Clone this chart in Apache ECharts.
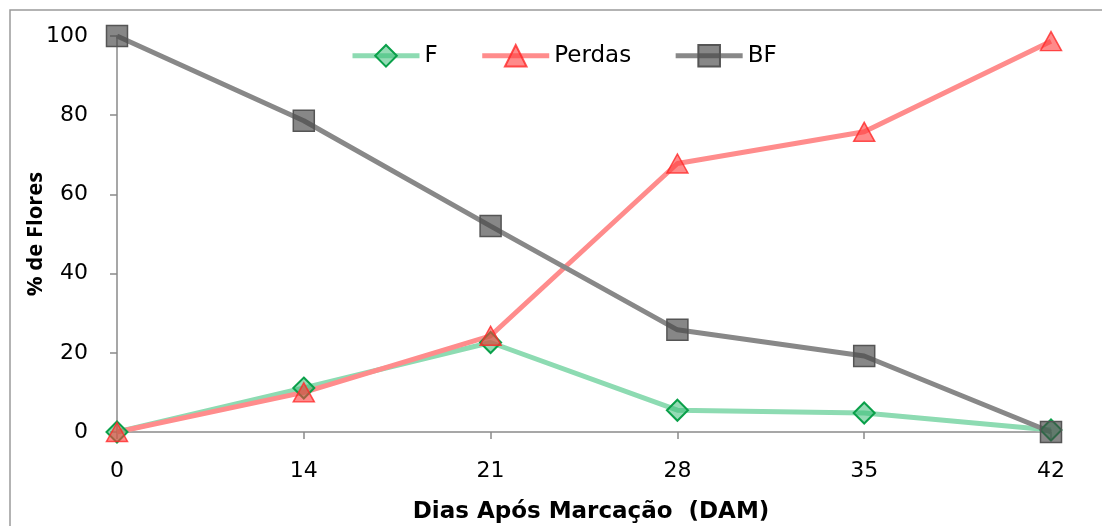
<!DOCTYPE html>
<html>
<head>
<meta charset="utf-8">
<script src="https://cdn.jsdelivr.net/npm/echarts@6/dist/echarts.min.js"></script>
<style>
  html, body { margin: 0; padding: 0; background: #fff; }
  #chart { width: 1102px; height: 526px; }
</style>
</head>
<body>
<div id="chart"></div>
<script>
// Days after marking (DAM)
const dias = ['0', '14', '21', '28', '35', '42'];
// Percentage of flowers per group
const serieF = [0, 11.1, 22.6, 5.5, 4.8, 0.5];
const seriePerdas = [0, 10, 24.3, 67.8, 75.8, 98.7];
const serieBF = [100, 78.6, 52, 25.8, 19.2, 0];
const yTicks = { min: 0, max: 100, interval: 20 };

const chart = echarts.init(document.getElementById('chart'), null, { renderer: 'canvas' });

const tickFont = { fontFamily: 'DejaVu Sans', fontSize: 22, color: '#000' };
const axisGray = '#8a8a8a';

chart.setOption({
  animation: false,
  backgroundColor: '#fff',
  graphic: [{
    type: 'rect',
    shape: { x: 10, y: 10, width: 1110, height: 540 },
    style: { fill: 'none', stroke: '#9a9a9a', lineWidth: 1.5 },
    silent: true
  }],
  grid: { left: 117, right: 51, top: 36, bottom: 94, containLabel: false, outerBoundsMode: 'none' },
  legend: {
    left: 350, top: 44, padding: 0,
    itemWidth: 67, itemHeight: 27, itemGap: 42,
    lineStyle: { width: 5 },
    textStyle: { fontFamily: 'DejaVu Sans', fontSize: 23, color: '#000' },
    data: ['F', 'Perdas', 'BF']
  },
  xAxis: {
    type: 'category',
    data: dias,
    boundaryGap: false,
    name: 'Dias Após Marcação  (DAM)',
    nameLocation: 'middle',
    nameGap: 69,
    nameTextStyle: { fontFamily: 'DejaVu Sans', fontWeight: 'bold', fontSize: 23, color: '#000', padding: [0, 0, 0, 14] },
    axisLine: { lineStyle: { color: axisGray, width: 1.5 } },
    axisTick: { show: true, alignWithLabel: true, length: 7, lineStyle: { color: axisGray, width: 1.5 } },
    axisLabel: Object.assign({ margin: 28 }, tickFont),
    splitLine: { show: false }
  },
  yAxis: {
    type: 'value',
    min: yTicks.min, max: yTicks.max, interval: yTicks.interval,
    name: '% de Flores',
    nameLocation: 'middle',
    nameGap: 70,
    nameMoveOverlap: false,
    nameRotate: 90,
    nameTextStyle: { fontFamily: 'Open Sans', fontWeight: 'bold', fontSize: 22, color: '#000' },
    axisLine: { show: true, lineStyle: { color: axisGray, width: 1.5 } },
    axisTick: { show: true, length: 7, lineStyle: { color: axisGray, width: 1.5 } },
    axisLabel: Object.assign({ margin: 29 }, tickFont),
    splitLine: { show: false }
  },
  series: [
    {
      name: 'F', type: 'line', data: serieF,
      symbol: 'diamond', symbolSize: 21,
      lineStyle: { color: '#8ddbb2', width: 5 },
      itemStyle: { color: 'rgba(60,190,120,0.55)', borderColor: '#0aa04a', borderWidth: 2 }
    },
    {
      name: 'Perdas', type: 'line', data: seriePerdas,
      symbol: 'triangle', symbolSize: [21, 19],
      lineStyle: { color: '#ff8c8c', width: 5 },
      itemStyle: { color: 'rgba(255,60,60,0.6)', borderColor: 'rgba(255,40,40,0.8)', borderWidth: 1.5 }
    },
    {
      name: 'BF', type: 'line', data: serieBF,
      symbol: 'rect', symbolSize: 21,
      lineStyle: { color: '#888888', width: 5 },
      itemStyle: { color: 'rgba(70,70,70,0.65)', borderColor: '#555', borderWidth: 1.5 }
    }
  ]
});
</script>
</body>
</html>
